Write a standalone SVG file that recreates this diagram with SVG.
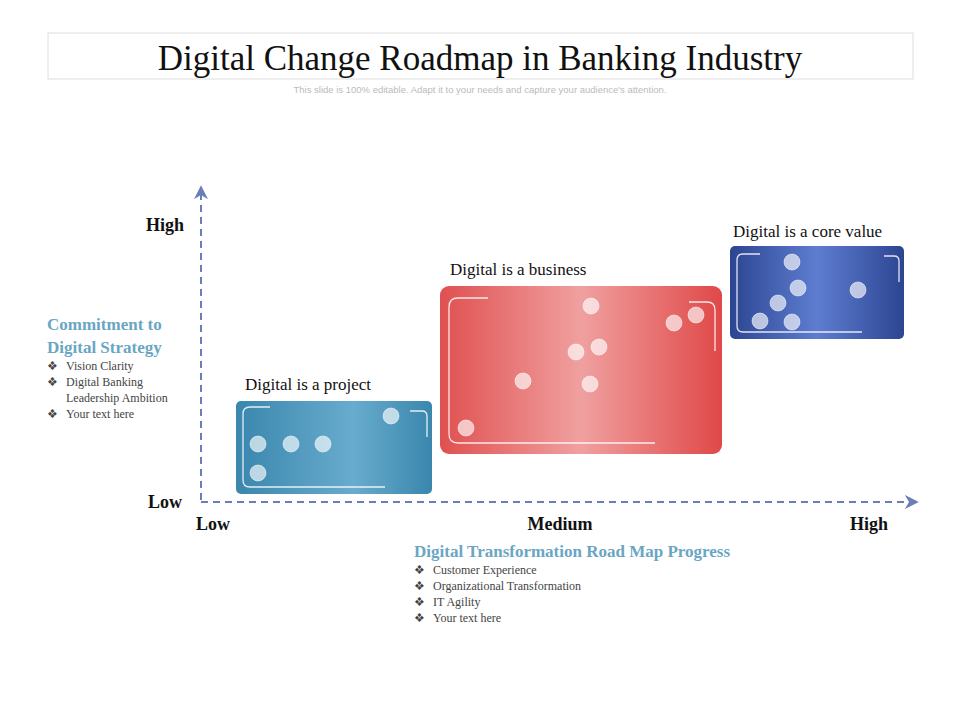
<svg xmlns="http://www.w3.org/2000/svg" width="960" height="720" viewBox="0 0 960 720">
<style>
.t{font-family:"Liberation Serif","DejaVu Serif",serif;fill:#111}
.h{font-family:"Liberation Serif",serif;fill:#6aa6c4;font-weight:bold;font-size:17px}
.b{font-family:"Liberation Serif",serif;fill:#444;font-size:12px}
.d{fill:#fff;fill-opacity:.65;stroke:#fff;stroke-opacity:.5}
.c{fill:none;stroke:#fff;stroke-width:1.3;stroke-opacity:.85}
.ax{stroke:#6a7fb8;stroke-width:2;stroke-dasharray:7,5;fill:none}
</style>
<defs>
<linearGradient id="gb"><stop offset="0" stop-color="#3a86ad"/><stop offset=".6" stop-color="#68acce"/><stop offset="1" stop-color="#3a86ad"/></linearGradient>
<linearGradient id="gr"><stop offset="0" stop-color="#e05050"/><stop offset=".5" stop-color="#f0a0a0"/><stop offset="1" stop-color="#e04848"/></linearGradient>
<linearGradient id="gn"><stop offset="0" stop-color="#2c4592"/><stop offset=".5" stop-color="#5e7dd0"/><stop offset="1" stop-color="#2c4592"/></linearGradient>
<marker id="ar" viewBox="0 0 10 10" refX="8" refY="5" markerWidth="7" markerHeight="7" orient="auto"><path d="M0,0 L10,5 L0,10 L3,5z" fill="#6a7fb8"/></marker>
</defs>
<g id="title">
<rect x="48" y="33" width="865" height="46" fill="#fff" stroke="#ddd"/>
<text x="480" y="70" text-anchor="middle" class="t" font-size="35">Digital Change Roadmap in Banking Industry</text>
<text x="480" y="93" text-anchor="middle" font-family="Liberation Sans,sans-serif" font-size="9.5" fill="#bbb">This slide is 100% editable. Adapt it to your needs and capture your audience's attention.</text>
</g>
<g id="connectors">
<path class="ax" d="M201,500 V188" marker-end="url(#ar)"/>
<path class="ax" d="M201,502 H916" marker-end="url(#ar)"/>
</g>
<g id="axis-labels" class="t" font-weight="bold" font-size="18">
<text x="146" y="231">High</text><text x="148" y="508">Low</text>
<text x="196" y="530">Low</text><text x="560" y="530" text-anchor="middle">Medium</text><text x="850" y="530">High</text>
</g>
<g id="y-legend">
<text class="h" x="47" y="330">Commitment to</text><text class="h" x="47" y="353">Digital Strategy</text>
<text class="b" x="47" y="370">❖ <tspan x="66">Vision Clarity</tspan></text>
<text class="b" x="47" y="386">❖ <tspan x="66">Digital Banking</tspan></text>
<text class="b" x="66" y="402">Leadership Ambition</text>
<text class="b" x="47" y="418">❖ <tspan x="66">Your text here</tspan></text>
</g>
<g id="x-legend">
<text class="h" x="414" y="557">Digital Transformation Road Map Progress</text>
<text class="b" x="414" y="574">❖ <tspan x="433">Customer Experience</tspan></text>
<text class="b" x="414" y="590">❖ <tspan x="433">Organizational Transformation</tspan></text>
<text class="b" x="414" y="606">❖ <tspan x="433">IT Agility</tspan></text>
<text class="b" x="414" y="622">❖ <tspan x="433">Your text here</tspan></text>
</g>
<g id="project">
<text class="t" x="245" y="390" font-size="17">Digital is a project</text>
<rect x="236" y="401" width="196" height="93" rx="5" fill="url(#gb)"/>
<path class="c" d="M270,407 H250 Q243,407 243,414 V480 Q243,487 250,487 H385"/>
<path class="c" d="M410,411 H422 Q427,411 427,416 V437"/>
<circle class="d" cx="391" cy="416" r="8"/><circle class="d" cx="258" cy="444" r="8"/><circle class="d" cx="291" cy="444" r="8"/><circle class="d" cx="323" cy="444" r="8"/><circle class="d" cx="258" cy="473" r="8"/>
</g>
<g id="business">
<text class="t" x="450" y="275" font-size="17">Digital is a business</text>
<rect x="440" y="286" width="282" height="168" rx="9" fill="url(#gr)"/>
<path class="c" d="M488,298 H458 Q449,298 449,307 V434 Q449,443 458,443 H655"/>
<path class="c" d="M689,302 H707 Q715,302 715,310 V351"/>
<circle class="d" cx="591" cy="306" r="8"/><circle class="d" cx="674" cy="323" r="8"/><circle class="d" cx="696" cy="315" r="8"/><circle class="d" cx="576" cy="352" r="8"/><circle class="d" cx="599" cy="347" r="8"/><circle class="d" cx="523" cy="381" r="8"/><circle class="d" cx="590" cy="384" r="8"/><circle class="d" cx="466" cy="428" r="8"/>
</g>
<g id="core">
<text class="t" x="733" y="237" font-size="17">Digital is a core value</text>
<rect x="730" y="246" width="174" height="93" rx="5" fill="url(#gn)"/>
<path class="c" d="M760,254 H743 Q737,254 737,260 V326 Q737,332 743,332 H862"/>
<path class="c" d="M884,256 H894 Q899,256 899,261 V282"/>
<circle class="d" cx="792" cy="262" r="8"/><circle class="d" cx="798" cy="288" r="8"/><circle class="d" cx="858" cy="290" r="8"/><circle class="d" cx="778" cy="303" r="8"/><circle class="d" cx="760" cy="321" r="8"/><circle class="d" cx="792" cy="322" r="8"/>
</g>
</svg>
